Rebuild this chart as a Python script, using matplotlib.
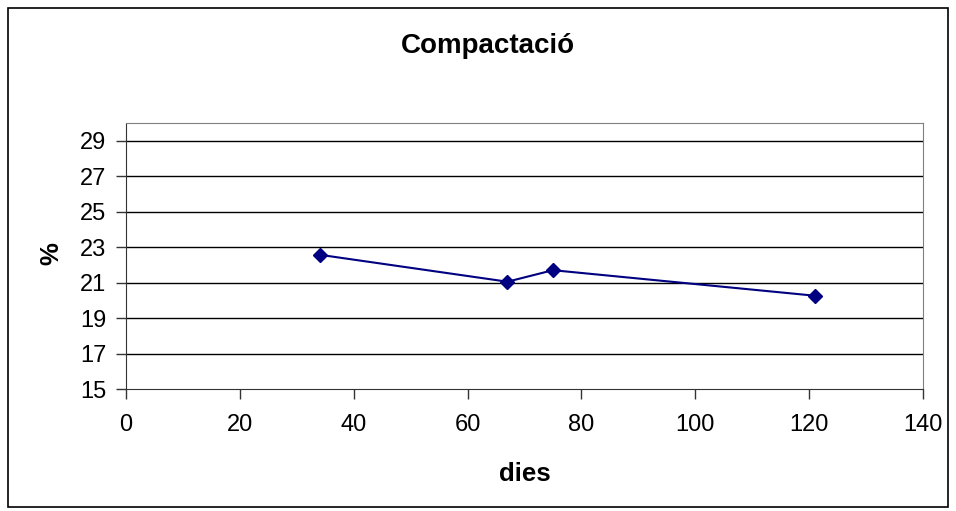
import matplotlib.pyplot as plt
from matplotlib.patches import Rectangle

plt.rcParams['font.family'] = ['Liberation Sans', 'DejaVu Sans']

# compaction measurements
dies = [34, 67, 75, 121]
percent = [22.57, 21.05, 21.7, 20.26]
yticks = [15, 17, 19, 21, 23, 25, 27, 29]
xticks = [0, 20, 40, 60, 80, 100, 120, 140]

W, H = 956, 511
fig = plt.figure(figsize=(W / 100, H / 100), dpi=100)
fig.patches.append(Rectangle((8 / W, 4 / H), 940 / W, 499 / H,
                             transform=fig.transFigure, fill=False,
                             edgecolor='black', linewidth=1.2))

ax = fig.add_axes([126 / W, 122 / H, 797 / W, 266 / H])
ax.set_xlim(0, 140)
ax.set_ylim(15, 30)
ax.set_xticks(xticks)
ax.set_yticks(yticks)
ax.tick_params(labelsize=17, length=7, width=1, color='#333333', direction='out')
ax.tick_params(axis='x', pad=11)
ax.tick_params(axis='y', pad=7)

for y in yticks[1:]:
    ax.axhline(y, color='black', linewidth=1, zorder=1)

for side in ['top', 'right']:
    ax.spines[side].set_color('#808080')
for side in ['left', 'bottom']:
    ax.spines[side].set_color('#333333')

ax.plot(dies, percent, color='#000080', marker='D', markersize=7.5,
        linewidth=1.5, zorder=3)

fig.text(488 / W, 1 - 53 / H, 'Compactació', fontsize=20, fontweight='bold',
         ha='center', va='baseline')
fig.text(525 / W, 1 - 481 / H, 'dies', fontsize=18.5, fontweight='bold',
         ha='center', va='baseline')
fig.text(51 / W, 1 - 254 / H, '%', fontsize=18.5, fontweight='bold',
         ha='center', va='center', rotation=90)

fig.savefig('out.png', dpi=100)
